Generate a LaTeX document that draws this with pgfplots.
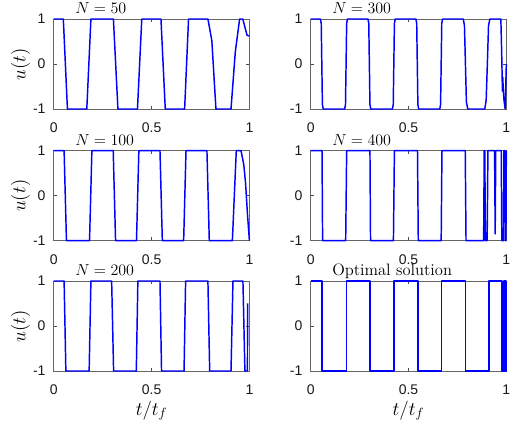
\documentclass[border=0pt]{standalone}
\usepackage{pgfplots}
\pgfplotsset{compat=1.18}
\usepackage{fontspec}
\newfontfamily\tickfont{Liberation Sans}
\definecolor{mblue}{rgb}{0,0,1}
\pgfplotsset{
  sub/.style={
    width=146.75pt, height=67.5pt, scale only axis,
    xmin=0, xmax=1, ymin=-1, ymax=1,
    xtick={0,0.5,1}, xticklabels={0,0.5,1},
    ytick={-1,0,1}, yticklabels={-1,0,1},
    tick align=inside, xtick pos=both, ytick pos=both,
    major tick length=2.5pt,
    axis line style={black!60, line width=0.5pt},
    every tick/.style={black!70, line width=0.4pt},
    tick label style={font=\tickfont\fontsize{10.5}{12}\selectfont, text=black!90},
    xticklabel style={anchor=base, inner sep=0pt, yshift=-18pt},
    yticklabel style={anchor=east, inner sep=0pt, xshift=-6pt},
    every axis title shift=0pt,
    title style={at={(axis description cs:0,1)}, anchor=base west, inner sep=0pt, xshift=16pt, yshift=3.75pt, font=\fontsize{12.4}{14}\selectfont},
    clip=false,
    no markers,
    every axis plot/.append style={mblue, line width=1.1pt, line join=round, mark=none},
  },
  ylab/.style={ylabel={$u(t)$}, ylabel style={at={(axis description cs:-0.17,0.5)}, anchor=center, rotate=0, font=\fontsize{14}{16}\selectfont}},
  xlab/.style={xlabel={$t/t_f$}, xlabel style={at={(axis description cs:0.5,-0.489)}, anchor=base, font=\fontsize{14}{16}\selectfont}},
}
\begin{document}
\begin{tikzpicture}
\useasboundingbox (0,0) rectangle (389.25pt,318pt);
% N = 50
\begin{axis}[sub, ylab, at={(40.3pt,236.25pt)}, anchor=south west, title={$N=50$}]
\addplot coordinates {(0,1)(0.049,1)(0.070,-1)(0.169,-1)(0.190,1)(0.305,1)(0.328,-1)(0.428,-1)(0.450,1)(0.548,1)(0.570,-1)(0.669,-1)(0.689,1)(0.788,1)(0.808,0.52)(0.829,-1)(0.906,-1)(0.928,0.27)(0.950,1)(0.966,1)(0.988,0.64)(1,0.62)};
\end{axis}
% N = 300
\begin{axis}[sub, at={(233pt,236.25pt)}, anchor=south west, title={$N=300$}]
\addplot coordinates {(0,1)(0.050,1)(0.054,0.9)(0.057,0)(0.060,-0.9)(0.064,-1)
(0.174,-1)(0.178,-0.9)(0.181,0)(0.184,0.9)(0.188,1)
(0.293,1)(0.297,0.9)(0.300,0)(0.303,-0.9)(0.307,-1)
(0.418,-1)(0.422,-0.9)(0.425,0)(0.428,0.9)(0.432,1)
(0.538,1)(0.542,0.9)(0.545,0)(0.548,-0.9)(0.552,-1)
(0.660,-1)(0.664,-0.9)(0.667,0)(0.670,0.9)(0.674,1)
(0.780,1)(0.786,0.85)(0.791,0)(0.796,-0.85)(0.803,-1)
(0.890,-1)(0.897,-0.8)(0.903,0)(0.909,0.85)(0.916,1)
(0.972,1)(0.976,0.3)(0.980,-0.6)(0.982,-0.3)(0.984,-0.55)(0.988,-0.8)(0.994,-1)(1,0)};
\end{axis}
% N = 100
\begin{axis}[sub, ylab, at={(40.3pt,137.5pt)}, anchor=south west, title={$N=100$}]
\addplot coordinates {(0,1)(0.053,1)(0.065,-1)(0.183,-1)(0.195,1)(0.304,1)(0.316,-1)(0.423,-1)(0.435,1)(0.543,1)(0.555,-1)(0.664,-1)(0.676,1)(0.783,1)(0.795,-1)(0.913,-1)(0.933,1)(0.957,1)(0.971,0.7)(0.980,0.3)(0.990,-0.4)(1,-1)};
\end{axis}
% N = 400
\begin{axis}[sub, at={(233pt,137.5pt)}, anchor=south west, title={$N=400$}]
\addplot coordinates {(0,1)(0.058,1)(0.061,-1)(0.179,-1)(0.184,1)(0.303,1)(0.306,-1)(0.423,-1)(0.428,1)(0.546,1)(0.550,-1)(0.667,-1)(0.671,1)(0.790,1)(0.794,-1)(0.884,-1)(0.887,1)(0.890,1)(0.893,-1)(0.902,-1)(0.906,1)(0.940,1)(0.943,-0.85)(0.946,1)(0.974,1)(0.977,-1)(0.985,-1)(0.988,1)(0.992,1)(0.995,-1)(0.998,-1)(1,1)};
\end{axis}
% N = 200
\begin{axis}[sub, ylab, xlab, at={(40.3pt,39.75pt)}, anchor=south west, title={$N=200$}]
\addplot coordinates {(0,1)(0.053,1)(0.062,-1)(0.181,-1)(0.190,1)(0.296,1)(0.306,-1)(0.422,-1)(0.430,1)(0.543,1)(0.551,-1)(0.666,-1)(0.674,1)(0.788,1)(0.797,-1)(0.906,-1)(0.916,1)(0.967,1)(0.977,-1)(0.990,-1)(0.991,0.5)};
\end{axis}
% Optimal
\begin{axis}[sub, xlab, at={(233pt,39.75pt)}, anchor=south west, title={Optimal solution}]
\addplot coordinates {(0,1)(0.059,1)(0.059,-1)(0.184,-1)(0.184,1)(0.303,1)(0.303,-1)(0.427,-1)(0.427,1)(0.548,1)(0.548,-1)(0.670,-1)(0.670,1)(0.791,1)(0.791,-1)(0.912,-1)(0.912,1)(0.977,1)(0.977,-1)(0.988,-1)(0.988,1)(0.993,1)(0.993,-1)(0.996,-1)(0.996,1)(0.998,1)(0.998,-1)(1,-1)(1,1)};
\end{axis}
\end{tikzpicture}
\end{document}
